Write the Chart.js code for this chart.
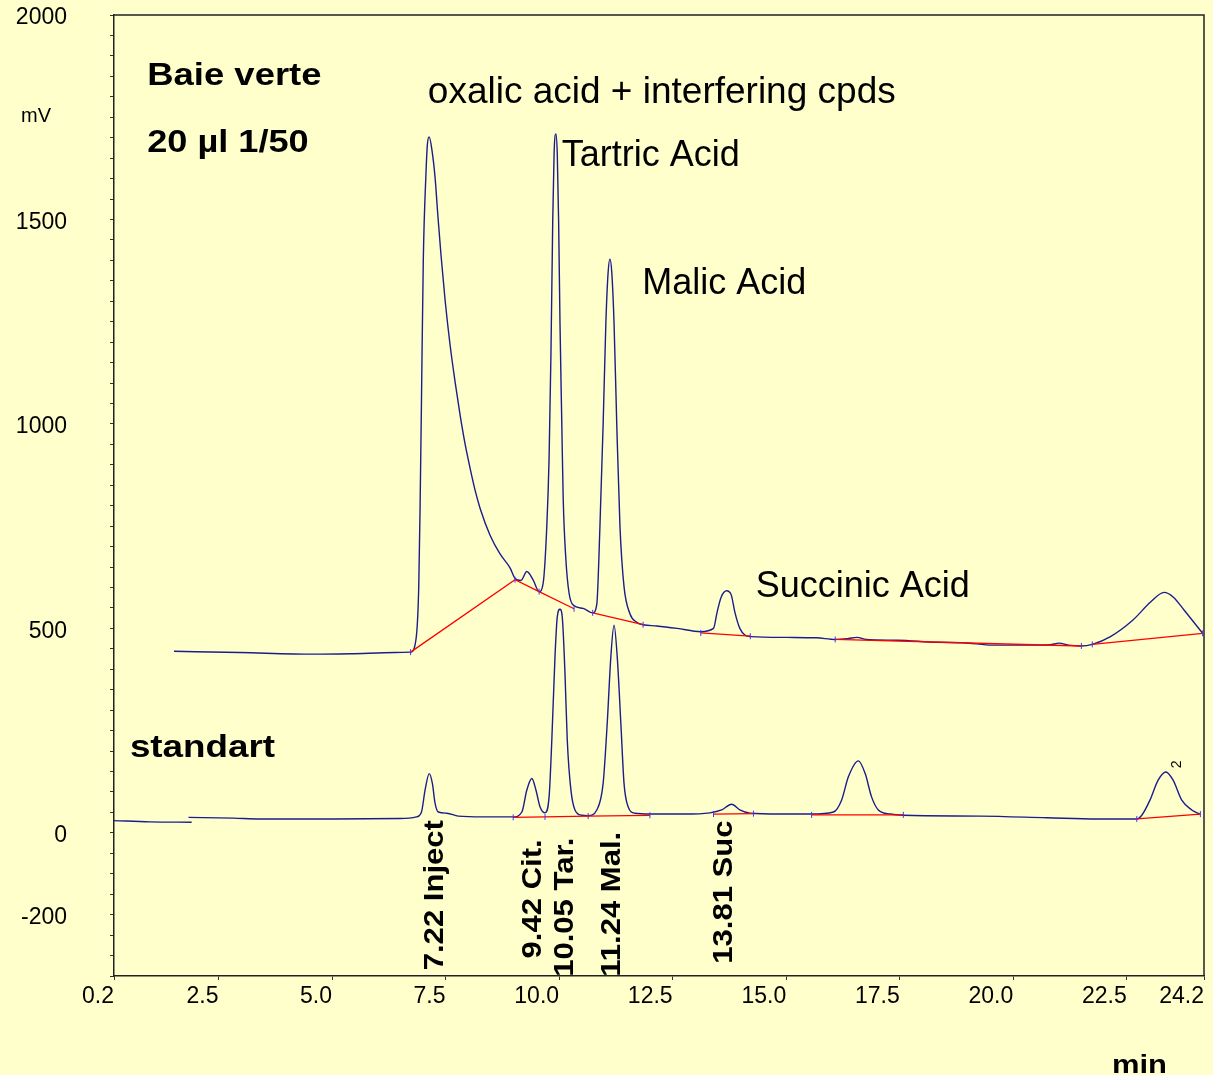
<!DOCTYPE html>
<html>
<head>
<meta charset="utf-8">
<title>Chromatogram - Baie verte</title>
<script src="https://cdn.jsdelivr.net/npm/chart.js@4.4.1/dist/chart.umd.min.js"></script>
<style>
    html, body { margin: 0; padding: 0; background: #ffffcc; }
    #chart { display: block; }
</style>
</head>
<body>
<canvas id="chart" width="1213" height="1075"></canvas>
<script>
// sample trace (Baie verte, 20 µl 1/50): time in min, signal in mV
const sampleTime = [1.52, 2.97, 4.58, 5.40, 6.39, 6.73, 6.85, 6.91, 6.94, 6.97, 7.01, 7.07, 7.10, 7.14, 7.20, 7.27, 7.33, 7.40, 7.49, 7.60,
    7.71, 7.82, 7.93, 8.04, 8.15, 8.26, 8.48, 8.70, 8.92, 9.03, 9.16, 9.29, 9.43, 9.56, 9.65, 9.73, 9.78, 9.82, 9.86, 9.89,
    9.93, 9.96, 9.99, 10.02, 10.06, 10.09, 10.15, 10.22, 10.31, 10.53, 10.74, 10.83, 10.90, 10.97, 11.03, 11.08, 11.12, 11.16, 11.21, 11.27,
    11.34, 11.43, 11.56, 11.71, 11.85, 12.15, 12.60, 13.12, 13.40, 13.48, 13.57, 13.69, 13.79, 13.87, 13.98, 14.09, 14.23, 15.02, 15.67, 16.08,
    16.36, 16.56, 16.76, 17.45, 18.34, 18.90, 19.55, 20.44, 20.81, 21.01, 21.21, 21.50, 21.74, 22.14, 22.63, 23.03, 23.32, 23.52, 23.76, 24.17];
const sampleMv = [444, 441, 437, 438, 441, 442, 474, 602, 800, 1057, 1400, 1615, 1683, 1702, 1670, 1602, 1511, 1413, 1303, 1193,
    1103, 1022, 951, 892, 838, 794, 728, 682, 648, 622, 617, 639, 618, 590, 611, 751, 917, 1165, 1495, 1661,
    1709, 1661, 1495, 1247, 999, 820, 668, 586, 557, 549, 538, 559, 751, 999, 1247, 1371, 1403, 1371, 1247, 999,
    751, 602, 536, 515, 509, 506, 500, 492, 500, 540, 577, 592, 582, 540, 500, 484, 480, 478, 477, 473,
    475, 478, 473, 471, 466, 465, 459, 459, 460, 464, 459, 457, 461, 480, 520, 565, 588, 577, 545, 488];

// integration baselines of the sample (null = break)
const sampleBaseTime = [6.73, 9.03, 9.56, 10.33, 10.33, 10.74, 11.85, 11.85, 13.12, 14.21, 14.21, 16.08, 21.50, 21.50, 21.74, 24.17];
const sampleBaseMv = [442, 619, 590, 548, null, 538, 509, null, 489, 481, null, 473, 457, null, 461, 488];

// standard trace: short lead-in piece, then the run
const leadTime = [0.2, 0.99, 1.91];
const leadMv = [30, 27, 26];
const standardTime = [1.84, 2.83, 3.41, 5.03, 6.50, 6.86, 6.97, 7.05, 7.14, 7.21, 7.27, 7.34, 7.53, 7.78, 8.33, 8.99, 9.18, 9.29, 9.40, 9.49,
    9.58, 9.69, 9.78, 9.84, 9.91, 9.96, 10.02, 10.07, 10.13, 10.18, 10.26, 10.35, 10.50, 10.64, 10.83, 10.97, 11.06, 11.14, 11.21, 11.28,
    11.36, 11.43, 11.52, 11.67, 12.00, 12.74, 13.32, 13.58, 13.80, 13.98, 14.20, 14.86, 15.56, 16.04, 16.22, 16.37, 16.59, 16.74, 16.88, 17.03,
    17.29, 17.58, 19.27, 20.74, 21.84, 22.72, 22.83, 23.01, 23.19, 23.36, 23.52, 23.71, 23.93, 24.11];
const standardMv = [38, 36, 34, 34, 35, 39, 51, 105, 145, 121, 72, 51, 48, 41, 39, 39, 51, 105, 133, 105,
    64, 49, 88, 227, 431, 528, 547, 528, 390, 227, 105, 56, 43, 42, 56, 121, 268, 431, 508, 431,
    268, 121, 64, 48, 46, 46, 49, 56, 70, 56, 48, 46, 46, 51, 80, 137, 176, 145, 88, 56,
    46, 43, 41, 37, 34, 34, 43, 80, 129, 149, 129, 80, 56, 46];

const standardBaseTime = [8.99, 9.69, 10.64, 12.00, 12.00, 13.40, 14.28, 14.28, 15.56, 17.58, 17.58, 22.72, 24.12];
const standardBaseMv = [38, 39, 41, 43, null, 46, 47, null, 44, 44, null, 34, 46];

// axes
const xTickValues = [0.2, 2.5, 5.0, 7.5, 10.0, 12.5, 15.0, 17.5, 20.0, 22.5, 24.2];
const yTickLabels = [2000, 1500, 1000, 500, 0, -200];

// texts
const titleTexts = ['Baie verte', '20 µl 1/50', 'standart'];
const peakNames = ['oxalic acid + interfering cpds', 'Tartric Acid', 'Malic Acid', 'Succinic Acid'];
const peakTimes = ['7.22 Inject', '9.42 Cit.', '10.05 Tar.', '11.24 Mal.', '13.81 Suc'];

const FAMILY = "'Liberation Sans', Arial, sans-serif";
const TRACE = '#1c1c8c';

const toPoints = (xs, ys) => xs.map((x, i) => ({ x, y: ys[i] }));

// where each text goes (time, mV), how it is set
const notes = [
    { text: titleTexts[0], t: 0.93, mv: 1829, font: 'bold 32px ' + FAMILY, stretch: 1.14 },
    { text: titleTexts[1], t: 0.93, mv: 1665, font: 'bold 32px ' + FAMILY, stretch: 1.13 },
    { text: titleTexts[2], t: 0.55, mv: 186, font: 'bold 32px ' + FAMILY, stretch: 1.15 },
    { text: peakNames[0], t: 7.11, mv: 1785, font: '37px ' + FAMILY },
    { text: peakNames[1], t: 10.06, mv: 1631, font: '36px ' + FAMILY },
    { text: peakNames[2], t: 11.83, mv: 1318, font: '36px ' + FAMILY },
    { text: peakNames[3], t: 14.33, mv: 576, font: '36px ' + FAMILY },
    { text: peakTimes[0], t: 7.44, mv: -336, font: 'bold 27px ' + FAMILY, stretch: 1.15, rotate: true },
    { text: peakTimes[1], t: 9.60, mv: -307, font: 'bold 27px ' + FAMILY, stretch: 1.15, rotate: true },
    { text: peakTimes[2], t: 10.31, mv: -352, font: 'bold 27px ' + FAMILY, stretch: 1.15, rotate: true },
    { text: peakTimes[3], t: 11.34, mv: -352, font: 'bold 27px ' + FAMILY, stretch: 1.15, rotate: true },
    { text: peakTimes[4], t: 13.80, mv: -320, font: 'bold 27px ' + FAMILY, stretch: 1.15, rotate: true },
    { text: '2', t: 23.70, mv: 158, font: '14px ' + FAMILY, rotate: true },
];

function drawNote(ctx, px, py, n) {
    ctx.save();
    ctx.translate(px, py);
    if (n.rotate) ctx.rotate(-Math.PI / 2);
    ctx.scale(n.stretch || 1, 1);
    ctx.font = n.font;
    ctx.fillStyle = '#000';
    ctx.textAlign = 'left';
    ctx.textBaseline = 'alphabetic';
    ctx.fillText(n.text, 0, 0);
    ctx.restore();
}

const paperPlugin = {
    id: 'paper',
    beforeDraw(chart) {
        const ctx = chart.ctx;
        ctx.save();
        ctx.fillStyle = '#ffffcc';
        ctx.fillRect(0, 0, chart.width, chart.height);
        ctx.restore();
    },
    afterDraw(chart) {
        const { ctx, chartArea: a, scales: { x, y } } = chart;
        ctx.save();
        // top and right edges of the frame
        ctx.strokeStyle = '#222';
        ctx.lineWidth = 1.5;
        ctx.beginPath();
        ctx.moveTo(a.left, a.top);
        ctx.lineTo(a.right, a.top);
        ctx.lineTo(a.right, a.bottom);
        ctx.stroke();
        ctx.restore();

        notes.forEach(n => drawNote(ctx, x.getPixelForValue(n.t), y.getPixelForValue(n.mv), n));

        // axis units
        drawNote(ctx, 21, 122, { text: 'mV', font: '20px ' + FAMILY });
        drawNote(ctx, 1112, 1073, { text: 'min', font: 'bold 26px ' + FAMILY, stretch: 1.19 });
    },
};

const traceStyle = {
    borderColor: TRACE,
    borderWidth: 1.4,
    pointRadius: 0,
    fill: false,
    cubicInterpolationMode: 'monotone',
};

const baseStyle = {
    borderColor: '#ff0000',
    borderWidth: 1.3,
    tension: 0,
    fill: false,
    spanGaps: false,
    pointStyle: 'line',
    rotation: 90,
    pointRadius: 3,
    pointBorderColor: '#3a3aff',
    pointBorderWidth: 1,
};

new Chart(document.getElementById('chart'), {
    type: 'line',
    data: {
        datasets: [
            { label: 'Baie verte baseline', data: toPoints(sampleBaseTime, sampleBaseMv), ...baseStyle },
            { label: 'standart baseline', data: toPoints(standardBaseTime, standardBaseMv), ...baseStyle },
            { label: 'Baie verte', data: toPoints(sampleTime, sampleMv), ...traceStyle },
            { label: 'standart lead', data: toPoints(leadTime, leadMv), ...traceStyle },
            { label: 'standart', data: toPoints(standardTime, standardMv), ...traceStyle },
        ],
    },
    options: {
        responsive: false,
        animation: false,
        layout: { padding: { top: 15, right: 9, left: 0, bottom: 0 } },
        plugins: { legend: { display: false }, tooltip: { enabled: false } },
        scales: {
            x: {
                type: 'linear',
                min: 0.2,
                max: 24.2,
                afterBuildTicks: s => { s.ticks = xTickValues.map(v => ({ value: v })); },
                afterFit: s => { s.height = 99; s.paddingLeft = 0; s.paddingRight = 0; },
                grid: { drawOnChartArea: false, drawTicks: true, tickLength: 4, color: '#333' },
                border: { display: true, color: '#222', width: 1.5 },
                ticks: {
                    autoSkip: false,
                    maxRotation: 0,
                    align: 'end',
                    padding: 3,
                    color: '#000',
                    font: { family: FAMILY, size: 23 },
                    callback: v => v.toFixed(1),
                },
            },
            y: {
                type: 'linear',
                min: -350,
                max: 2000,
                afterBuildTicks: s => {
                    const ticks = [];
                    for (let v = -350; v <= 2000; v += 50) ticks.push({ value: v });
                    s.ticks = ticks;
                },
                afterFit: s => { s.width = 114; s.paddingTop = 0; s.paddingBottom = 0; },
                grid: { drawOnChartArea: false, drawTicks: true, tickLength: 4, color: '#333' },
                border: { display: true, color: '#222', width: 1.5 },
                ticks: {
                    autoSkip: false,
                    padding: 43,
                    labelOffset: 3,
                    color: '#000',
                    font: { family: FAMILY, size: 23 },
                    callback: v => yTickLabels.includes(v) ? String(v) : '',
                },
            },
        },
    },
    plugins: [paperPlugin],
});
</script>
</body>
</html>
